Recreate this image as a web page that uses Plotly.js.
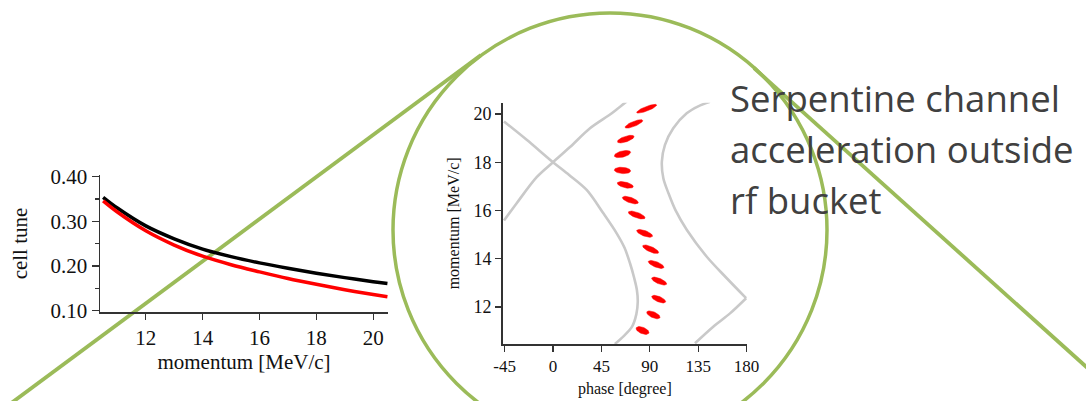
<!DOCTYPE html>
<html>
<head>
<meta charset="utf-8">
<script src="https://cdn.plot.ly/plotly-3.0.1.min.js"></script>
<style>html,body{margin:0;padding:0;background:#fff}#chart{width:1086px;height:401px}</style>
</head>
<body>
<div id="chart"></div>
<script>
// ---------- Left panel: cell tune vs momentum ----------
const tuneMomentum = [10.5, 11, 12, 13, 14, 15, 16, 17, 18, 19, 20, 20.5];
const tuneBlack    = [0.354, 0.330, 0.290, 0.261, 0.238, 0.221, 0.207, 0.195, 0.184, 0.174, 0.165, 0.161];
const tuneRed      = [0.346, 0.321, 0.279, 0.247, 0.222, 0.203, 0.187, 0.172, 0.159, 0.147, 0.136, 0.131];
const tuneTickVals = [0.10, 0.20, 0.30, 0.40];
const tuneTickText = ['0.10', '0.20', '0.30', '0.40'];
const tuneMinorTicks = [0.15, 0.25, 0.35];
const leftMomTicks = [12, 14, 16, 18, 20];

// ---------- Right panel: longitudinal phase space ----------
// separatrix branch from top-left, through the crossing at (0,18), down to the bottom
const sepAPhase = [-45.6, -24.5, 0, 15, 31.3, 46.8, 59.2, 66.5, 71.6, 75.5, 78, 78.8, 77.5, 73.5, 66, 57.5];
const sepAMom   = [19.69, 18.93, 18.0, 17.47, 16.85, 15.88, 15.05, 14.45, 13.81, 13.2, 12.7, 12.2, 11.7, 11.18, 10.8, 10.46];
// separatrix branch from bottom-left up through (0,18) to the top
const sepBPhase = [-45.6, -33.8, -15.2, 0, 15.8, 34.4, 53, 60, 68.5];
const sepBMom   = [15.58, 16.3, 17.38, 18.0, 18.63, 19.41, 19.98, 20.22, 20.52];
// right separatrix, upper branch (top down to the 180 degree corner)
const sepCUpperPhase = [146, 135, 124.3, 111.8, 104.1, 101.2, 102.6, 107.5, 114, 124.5, 143, 160.5, 179.6];
const sepCUpperMom   = [20.51, 20.32, 20.03, 19.41, 18.72, 18.02, 17.34, 16.7, 16.0, 15.19, 14.08, 13.24, 12.36];
// right separatrix, lower branch (corner down to the bottom)
const sepCLowerPhase = [179.6, 164.6, 149, 132];
const sepCLowerMom   = [12.36, 11.73, 11.18, 10.49];

// bunch ellipses: centre phase, centre momentum, half length (deg), tilt (MeV/c per deg), half thickness (MeV/c)
const bunchPhase     = [87.1, 75.2, 67.6, 64.6, 64.6, 67.2, 71.9, 77.8, 85.2, 90.8, 95.9, 98.7, 98.3, 93.3, 83.2];
const bunchMomentum  = [20.22, 19.59, 18.96, 18.34, 17.66, 17.06, 16.43, 15.81, 15.05, 14.39, 13.76, 13.07, 12.32, 11.67, 11.02];
const bunchHalfLen   = [9.3, 8.2, 7.75, 7.6, 7.6, 7.4, 7.4, 7.75, 7.4, 7.4, 7.3, 7.0, 6.5, 6.2, 6.0];
const bunchTilt      = [0.0163, 0.0167, 0.0134, 0.0093, -0.0027, -0.0095, -0.0139, -0.0145, -0.0148, -0.0180, -0.0159, -0.0165, -0.016, -0.0160, -0.0140];
const bunchHalfThick = [0.10, 0.11, 0.12, 0.13, 0.13, 0.12, 0.12, 0.12, 0.12, 0.12, 0.12, 0.12, 0.12, 0.13, 0.14];
const phaseTickVals  = [-45, 0, 45, 90, 135, 180];
const phaseTickText  = ['-45', '0', '45', '90', '135', '180'];
const rightMomTicks  = [12, 14, 16, 18, 20];

// caption text
const captionLines = ['Serpentine channel', 'acceleration outside', 'rf bucket'];

// ---------- build ----------
const W = 1086, H = 401;
const px = v => v / W;
const py = v => 1 - v / H;

const traces = [];
traces.push({x: tuneMomentum, y: tuneBlack, xaxis: 'x', yaxis: 'y', mode: 'lines',
  line: {color: '#000000', width: 3.5, shape: 'spline', smoothing: 1}, hoverinfo: 'skip'});
traces.push({x: tuneMomentum, y: tuneRed, xaxis: 'x', yaxis: 'y', mode: 'lines',
  line: {color: '#ff0000', width: 3.5, shape: 'spline', smoothing: 1}, hoverinfo: 'skip'});

const grayLine = {color: '#c9c9c9', width: 2.6, shape: 'spline', smoothing: 0.9};
[[sepAPhase, sepAMom], [sepBPhase, sepBMom], [sepCUpperPhase, sepCUpperMom], [sepCLowerPhase, sepCLowerMom]].forEach(([xs, ys]) => {
  traces.push({x: xs, y: ys, xaxis: 'x2', yaxis: 'y2', mode: 'lines', line: grayLine, hoverinfo: 'skip'});
});

for (let i = 0; i < bunchPhase.length; i++) {
  const ex = [], ey = [];
  const n = 48;
  for (let k = 0; k <= n; k++) {
    const t = 2 * Math.PI * k / n;
    const d = bunchHalfLen[i] * Math.cos(t);
    ex.push(bunchPhase[i] + d);
    ey.push(bunchMomentum[i] + bunchTilt[i] * d + bunchHalfThick[i] * Math.sin(t));
  }
  traces.push({x: ex, y: ey, xaxis: 'x2', yaxis: 'y2', mode: 'lines', fill: 'toself',
    fillcolor: '#ff0000', line: {color: '#ff0000', width: 0.5}, hoverinfo: 'skip'});
}

const serif = 'Liberation Serif, Times New Roman, serif';
const axBase = {
  showline: true, linecolor: '#333333', linewidth: 1.5,
  ticks: 'outside', tickcolor: '#333333', tickwidth: 1.3,
  showgrid: false, zeroline: false, fixedrange: true
};

const green = '#9bbb59';
const layout = {
  width: W, height: H,
  margin: {l: 0, r: 0, t: 0, b: 0, pad: 0},
  paper_bgcolor: '#ffffff', plot_bgcolor: 'rgba(0,0,0,0)',
  showlegend: false,
  xaxis: Object.assign({}, axBase, {
    domain: [px(100), px(388)], range: [10.39, 20.52], anchor: 'y',
    tickvals: leftMomTicks, ticklen: 6,
    tickfont: {family: serif, size: 21, color: '#111'},
    title: {text: 'momentum [MeV/c]', font: {family: serif, size: 21, color: '#111'}, standoff: 5}
  }),
  yaxis: Object.assign({}, axBase, {
    domain: [py(312), py(175)], range: [0.097, 0.404], anchor: 'x',
    tickvals: tuneTickVals, ticktext: tuneTickText, ticklen: 7,
    minor: {tickmode: 'array', tickvals: tuneMinorTicks, ticks: 'outside', ticklen: 4, tickcolor: '#333333', tickwidth: 1.3},
    tickfont: {family: serif, size: 21, color: '#111'},
    title: {text: 'cell tune', font: {family: serif, size: 21, color: '#111'}, standoff: 17}
  }),
  xaxis2: Object.assign({}, axBase, {
    domain: [px(502.7), px(747)], range: [-46.8, 180.4], anchor: 'y2',
    tickvals: phaseTickVals, ticktext: phaseTickText, ticklen: 6,
    tickfont: {family: serif, size: 17, color: '#111'},
    title: {text: 'phase [degree]', font: {family: serif, size: 16, color: '#111'}, standoff: 8}
  }),
  yaxis2: Object.assign({}, axBase, {
    domain: [py(344), py(102.7)], range: [10.46, 20.47], anchor: 'x2',
    tickvals: rightMomTicks, ticklen: 6,
    tickfont: {family: serif, size: 18, color: '#111'},
    title: {text: 'momentum [MeV/c]', font: {family: serif, size: 16, color: '#111'}, standoff: 10}
  }),
  shapes: [
    {type: 'circle', xref: 'paper', yref: 'paper', layer: 'below',
     x0: px(393), x1: px(827), y0: py(447), y1: py(13),
     line: {color: green, width: 3.5}},
    {type: 'line', xref: 'paper', yref: 'paper', layer: 'below',
     x0: px(481), y0: py(55), x1: px(10), y1: py(404),
     line: {color: green, width: 3.8}},
    {type: 'line', xref: 'paper', yref: 'paper', layer: 'below',
     x0: px(754), y0: py(68), x1: px(1092), y1: py(372),
     line: {color: green, width: 3.8}}
  ],
  annotations: captionLines.map((t, i) => ({
    text: t, showarrow: false, xref: 'paper', yref: 'paper',
    x: px(728), xanchor: 'left', y: py(98 + 51 * i), yanchor: 'middle',
    font: {family: 'Open Sans, sans-serif', size: 36.5, color: '#404040'}
  }))
};

Plotly.newPlot('chart', traces, layout, {staticPlot: true, displayModeBar: false});
</script>
</body>
</html>
